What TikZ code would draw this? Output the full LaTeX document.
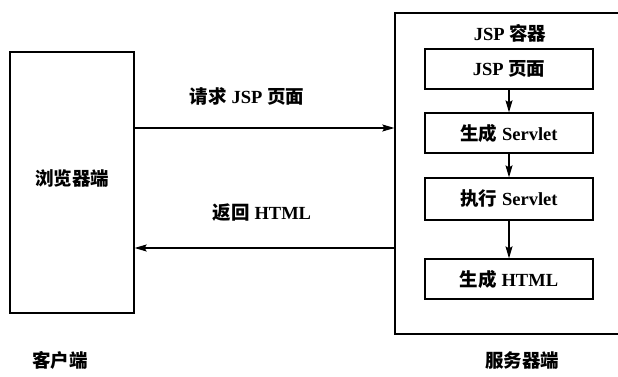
\documentclass[tikz,border=0pt]{standalone}
\usepackage{fontspec}
\setmainfont{Liberation Serif}
\newfontfamily\cjkfont{Noto Sans CJK SC}
\newcommand{\zh}[1]{{\cjkfont\bfseries #1}}
\usetikzlibrary{arrows.meta}
\begin{document}
\begin{tikzpicture}[x=1pt,y=-1pt,
  box/.style={draw,line width=1.3pt,inner sep=0pt},
  lbl/.style={font=\fontsize{18.5}{21}\selectfont\bfseries,inner sep=0pt},
  arr/.style={line width=1.1pt,-{Stealth[length=12pt,width=7pt,inset=2pt]}}]
\clip (0,0) rectangle (618,377);
\node[box,minimum width=124pt,minimum height=261pt] (browser) at (72,182.5) {};
\node[lbl] (browserlbl) at (72,178) {\zh{浏览器端}};
\node[box,minimum width=245pt,minimum height=321pt] (server) at (517.5,173.5) {};
\node[lbl] (container) at (510,33) {JSP \zh{容器}};
\node[box,lbl,minimum width=168pt,minimum height=40pt] (jsp) at (509,69) {JSP \zh{页面}};
\node[box,lbl,minimum width=168pt,minimum height=40pt] (gen) at (509,133) {\zh{生成} Servlet};
\node[box,lbl,minimum width=168pt,minimum height=42pt] (exe) at (509,199) {\zh{执行} Servlet};
\node[box,lbl,minimum width=168pt,minimum height=40pt] (html) at (509,279) {\zh{生成} HTML};
\draw[arr] (jsp) -- (gen);
\draw[arr] (gen) -- (exe);
\draw[arr] (exe) -- (html);
\coordinate (reqy) at (0,128);
\coordinate (rety) at (0,248);
\draw[arr] (browser.east |- reqy) -- (server.west |- reqy);
\draw[arr] (server.west |- rety) -- (browser.east |- rety);
\node[lbl] (reqlbl) at (247,96) {\zh{请求} JSP \zh{页面}};
\node[lbl] (retlbl) at (262,213) {\zh{返回} HTML};
\node[lbl] (client) at (60,360) {\zh{客户端}};
\node[lbl] (serverlbl) at (522,360) {\zh{服务器端}};
\end{tikzpicture}
\end{document}
